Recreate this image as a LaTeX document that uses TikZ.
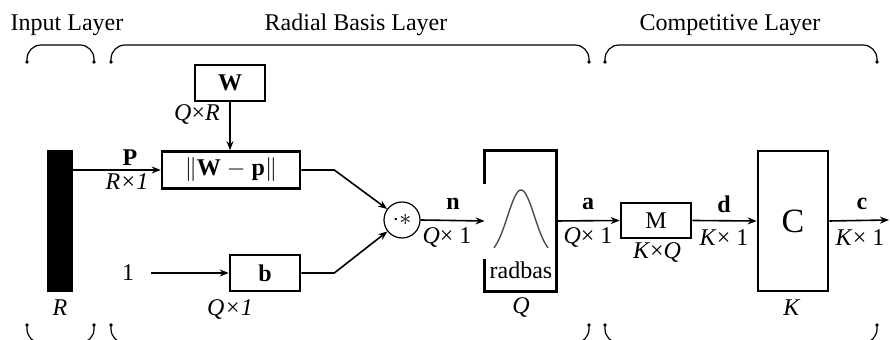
\documentclass[tikz,border=0pt]{standalone}
\usepackage{fontspec}
\setmainfont{Liberation Serif}
\usepackage{tikz}
\usetikzlibrary{calc, arrows.meta}

\begin{document}
\begin{tikzpicture}[x=0.5pt, y=-0.5pt, font=\fontsize{12}{14}\selectfont,
    box/.style={draw, line width=1.3pt, inner sep=0pt},
    wire/.style={line width=0.8pt, -{Stealth[length=4.5pt,width=3.5pt]}},
    brace/.style={line width=0.6pt, rounded corners=7pt}]
  \useasboundingbox (0,0) rectangle (890,340);

  % Layer titles
  \node (tin) at (67,25) {Input Layer};
  \node (trb) at (356,25) {Radial Basis Layer};
  \node (tco) at (730,25) {Competitive Layer};

  % Brackets above the layers
  \draw[brace] (27,62) -- (27,45) -- (94,45) -- (94,62);
  \draw[brace] (111,62) -- (111,45) -- (589,45) -- (589,62);
  \draw[brace] (605,62) -- (605,45) -- (877,45) -- (877,62);
  \foreach \x in {27,94,111,589,605,877} \fill (\x,62) circle (0.9pt);

  % Brackets below the layers (cut by the edge)
  \draw[brace] (27,325) -- (27,343) -- (94,343) -- (94,325);
  \draw[brace] (111,325) -- (111,343) -- (589,343) -- (589,325);
  \draw[brace] (605,325) -- (605,343) -- (877,343) -- (877,325);
  \foreach \x in {27,94,111,589,605,877} \fill (\x,325) circle (0.9pt);

  % Input vector
  \node[box, fill=black, minimum width=11.5pt, minimum height=70pt] (bar) at (60,221) {};
  \node (lr) at (60,308) {\textit{R}};

  % Radial basis layer
  \node[box, minimum width=35pt, minimum height=18pt] (wbox) at (230,83) {\textbf{W}};
  \node[box, minimum width=69pt, minimum height=18.5pt] (dist) at (231,170) {$\|$\textbf{W} $-$ \textbf{p}$\|$};
  \node[box, minimum width=35pt, minimum height=18pt] (bbox) at (265,273) {\textbf{b}};
  \node (one) at (128,273) {1};
  \node[draw, circle, line width=0.6pt, minimum size=18pt, inner sep=0pt] (prod) at (402,220) {${\cdot}{\ast}$};
  \node[minimum width=35.5pt, minimum height=70pt, inner sep=0pt] (radbas) at (520.5,221) {};
  \draw[line width=1.3pt] ($(radbas.north west)+(0,33)$) -- (radbas.north west) -- (radbas.north east)
    -- (radbas.south east) -- (radbas.south west) -- ($(radbas.south west)+(0,-32)$);
  \draw[gray!60!black, line width=0.7pt, smooth, samples=40, domain=-27:27]
    plot ({\x+521}, {248-58*(exp(-(\x/19)^2)-0.13)/0.87});
  \node (rbtxt) at (521,270) {radbas};
  \node (lq) at (521,308) {\textit{Q}};

  % Competitive layer
  \node[box, minimum width=35pt, minimum height=17.5pt] (mbox) at (656,220.5) {M};
  \node[box, minimum width=35pt, minimum height=70pt, font=\fontsize{17}{20}\selectfont] (cbox) at (793,221) {C};
  \node (lk) at (792,308) {\textit{K}};
  \coordinate (out) at (889,220);

  % Connections
  \draw[wire] (bar.east |- dist.west) -- (dist.west);
  \draw[wire] (wbox.south) -- (wbox.south |- dist.north);
  \draw[wire] ([xshift=5pt]one.east) -- (bbox.west);
  \draw[wire] (dist.east) -- ++(33,0) -- (prod);
  \draw[wire] (bbox.east) -- ++(33,0) -- (prod);
  \draw[wire] (prod.east) -- (radbas.west);
  \draw[wire] (radbas.east) -- (mbox.west);
  \draw[wire] (mbox.east) -- (cbox.west);
  \draw[wire] (cbox.east) -- (out);

  % Sizes and signal names
  \node at (130,158) {\textbf{P}};
  \node at (127,182) {\textit{R×1}};
  \node at (197,115) {\textit{Q}×\textit{R}};
  \node at (230,310) {\textit{Q×1}};
  \node at (453,204) {\textbf{n}};
  \node at (447,238) {\textit{Q}× 1};
  \node at (588,204) {\textbf{a}};
  \node at (588,238) {\textit{Q}× 1};
  \node at (657,253) {\textit{K}×\textit{Q}};
  \node at (724,204) {\textbf{d}};
  \node at (724,238) {\textit{K}× 1};
  \node at (862,204) {\textbf{c}};
  \node at (860,238) {\textit{K}× 1};
\end{tikzpicture}
\end{document}
